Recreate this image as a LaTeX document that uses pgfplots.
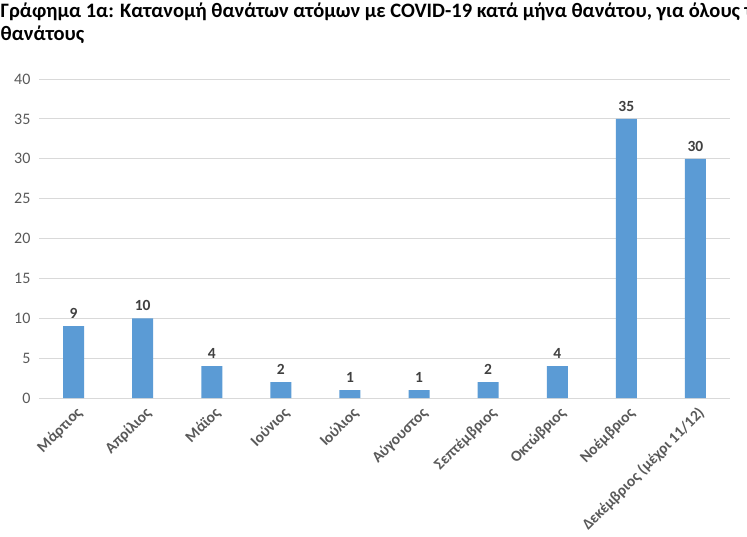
\documentclass[border=0pt]{standalone}
\usepackage{fontspec}
\setmainfont{Carlito}
\usepackage{pgfplots}
\pgfplotsset{compat=1.18}
\definecolor{barblue}{HTML}{5B9BD5}
\definecolor{gridgray}{HTML}{D9D9D9}
\definecolor{tickgray}{HTML}{595959}
\definecolor{labgray}{HTML}{404040}
\begin{document}
\begin{tikzpicture}
\useasboundingbox (0,0) rectangle (747pt,-536pt);
\clip (0,0) rectangle (747pt,-536pt);
\node[anchor=base west, inner sep=0, font=\fontsize{20.5}{24}\selectfont\bfseries] at (0.5pt,-17.5pt) {Γράφημα 1α: Κατανομή θανάτων ατόμων με COVID-19 κατά μήνα θανάτου, για όλους τους};
\node[anchor=base west, inner sep=0, font=\fontsize{20.5}{24}\selectfont\bfseries] at (0.5pt,-40pt) {θανάτους};
\begin{axis}[
  at={(39pt,-398pt)}, anchor=south west,
  scale only axis, width=691pt, height=319pt,
  ymin=0, ymax=40, ytick={0,5,...,40},
  xmin=-0.5, xmax=9.5,
  xtick={0,...,9},
  xticklabels={Μάρτιος,Απρίλιος,Μάϊος,Ιούνιος,Ιούλιος,Αύγουστος,Σεπτέμβριος,Οκτώβριος,Νοέμβριος,Δεκέμβριος (μέχρι 11/12)},
  ybar, bar width=21pt,
  axis x line*=bottom, axis y line*=left,
  y axis line style={draw=none},
  x axis line style={draw=gridgray, line width=1pt, -},
  ymajorgrids, grid style={draw=gridgray, line width=0.8pt},
  major tick length=0pt,
  /pgf/number format/assume math mode=true,
  yticklabel style={font=\fontsize{16}{18}\selectfont, text=tickgray, xshift=-5pt},
  xticklabel style={rotate=45, anchor=north east, font=\fontsize{15.5}{18}\selectfont\bfseries, text=tickgray, yshift=-3pt, xshift=-1pt},
  nodes near coords,
  nodes near coords style={font=\fontsize{15.5}{18}\selectfont\bfseries, text=labgray, yshift=4pt},
]
\addplot[fill=barblue, draw=none] coordinates {(0,9) (1,10) (2,4) (3,2) (4,1) (5,1) (6,2) (7,4) (8,35) (9,30)};
\end{axis}
\end{tikzpicture}
\end{document}
